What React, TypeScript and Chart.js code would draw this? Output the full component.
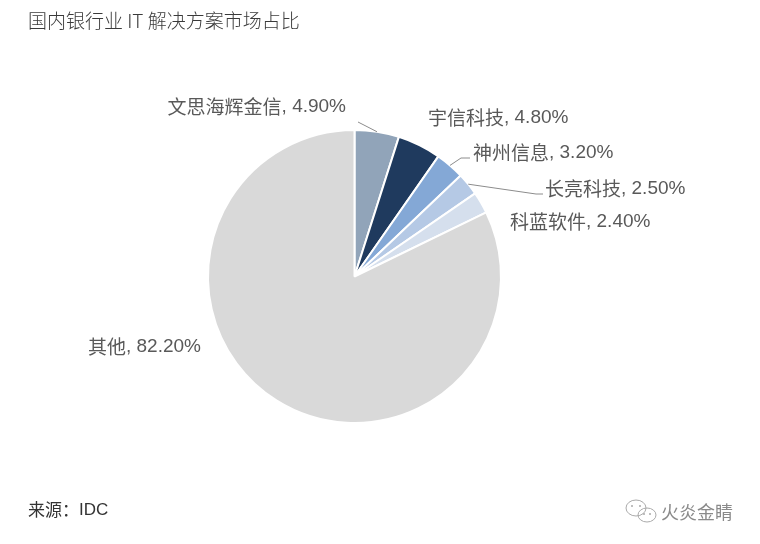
import React, { useEffect, useRef } from "react";
import { Chart, registerables } from "chart.js";

Chart.register(...registerables);

const categories = ["文思海辉金信", "宇信科技", "神州信息", "长亮科技", "科蓝软件", "其他"];
const shares = [4.9, 4.8, 3.2, 2.5, 2.4, 82.2];
const sliceColors = ["#91a4b9", "#1f3a5e", "#84a8d6", "#b5c9e5", "#d5dfed", "#d9d9d9"];
// label text anchor: [x, y, align]
const labelAnchors: [number, number, "left" | "right"][] = [
  [346, 107, "right"],
  [428, 118, "left"],
  [473, 153, "left"],
  [545, 189, "left"],
  [510, 222, "left"],
  [88, 347, "left"],
];
// leader line end points (null = no leader)
const leaderEnds: ([number, number][] | null)[] = [
  [[358, 122]],
  null,
  [[461, 158], [470, 158]],
  [[536, 194], [543, 194]],
  null,
  null,
];
const title = "国内银行业 IT 解决方案市场占比";
const source = "来源：IDC";
const watermark = "火炎金睛";

const CJK = '"Noto Sans CJK SC", "Liberation Sans", sans-serif';
const LAT = '"Liberation Sans", Arial, "Noto Sans CJK SC", sans-serif';

function drawMixed(ctx: CanvasRenderingContext2D, cn: string, rest: string, x: number, y: number, align: "left" | "right", size: number) {
  ctx.textBaseline = "middle";
  ctx.textAlign = "left";
  ctx.font = `${size}px ${CJK}`;
  const w1 = ctx.measureText(cn).width;
  ctx.font = `${size}px ${LAT}`;
  const w2 = ctx.measureText(rest).width;
  const x0 = align === "left" ? x : x - w1 - w2;
  ctx.font = `${size}px ${CJK}`;
  ctx.fillText(cn, x0, y);
  ctx.font = `${size}px ${LAT}`;
  ctx.fillText(rest, x0 + w1, y);
}

const overlayPlugin = {
  id: "overlay",
  afterDraw(chart: any) {
    const ctx: CanvasRenderingContext2D = chart.ctx;
    ctx.save();
    // title
    ctx.fillStyle = "#3a3a3a";
    ctx.textBaseline = "middle";
    ctx.textAlign = "left";
    ctx.font = `300 19px ${CJK}`;
    ctx.fillText(title, 28, 21);
    // labels and leaders
    const arcs = chart.getDatasetMeta(0).data;
    arcs.forEach((arc: any, i: number) => {
      const mid = (arc.startAngle + arc.endAngle) / 2;
      const r = arc.outerRadius;
      const px = arc.x + Math.cos(mid) * r;
      const py = arc.y + Math.sin(mid) * r;
      const le = leaderEnds[i];
      if (le) {
        ctx.strokeStyle = "#8c8c8c";
        ctx.lineWidth = 1;
        ctx.beginPath();
        ctx.moveTo(px, py);
        le.forEach(([lx, ly]) => ctx.lineTo(lx, ly));
        ctx.stroke();
      }
      const [ax, ay, al] = labelAnchors[i];
      ctx.fillStyle = "#595959";
      drawMixed(ctx, categories[i], `, ${shares[i].toFixed(2)}%`, ax, ay, al, 19);
    });
    // source
    ctx.fillStyle = "#333";
    ctx.font = `17px ${CJK}`;
    ctx.textAlign = "left";
    ctx.fillText("来源：", 28, 510);
    const w = ctx.measureText("来源：").width;
    ctx.font = `17px ${LAT}`;
    ctx.fillText(source.replace("来源：", ""), 28 + w, 510);
    // watermark icon
    ctx.strokeStyle = "#aaa";
    ctx.lineWidth = 1;
    ctx.beginPath();
    ctx.ellipse(636, 508, 10, 8, 0, 0, Math.PI * 2);
    ctx.stroke();
    ctx.beginPath();
    ctx.ellipse(647, 515, 9, 7, 0, 0, Math.PI * 2);
    ctx.stroke();
    ctx.fillStyle = "#aaa";
    [[632, 506], [640, 506], [644, 514], [650, 514]].forEach(([x, y]) => {
      ctx.beginPath();
      ctx.arc(x, y, 1, 0, Math.PI * 2);
      ctx.fill();
    });
    ctx.fillStyle = "#8a8a8a";
    ctx.font = `18px ${CJK}`;
    ctx.fillText(watermark, 661, 512);
    ctx.restore();
  },
};

export default function App() {
  const ref = useRef<HTMLCanvasElement>(null);
  useEffect(() => {
    if (!ref.current) return;
    const chart = new Chart(ref.current, {
      type: "pie",
      data: {
        labels: categories,
        datasets: [
          {
            data: shares,
            backgroundColor: sliceColors,
            borderColor: "#ffffff",
            borderWidth: 2,
          },
        ],
      },
      options: {
        responsive: false,
        animation: false,
        rotation: 0,
        layout: { padding: { left: 207, right: 258, top: 129, bottom: 120 } },
        plugins: { legend: { display: false }, tooltip: { enabled: false }, title: { display: false } },
      },
      plugins: [overlayPlugin],
    });
    return () => chart.destroy();
  }, []);
  return (
    <div style={{ position: "fixed", left: 0, top: 0, width: 760, height: 544, background: "#fff" }}>
      <canvas ref={ref} width={760} height={544} />
    </div>
  );
}
